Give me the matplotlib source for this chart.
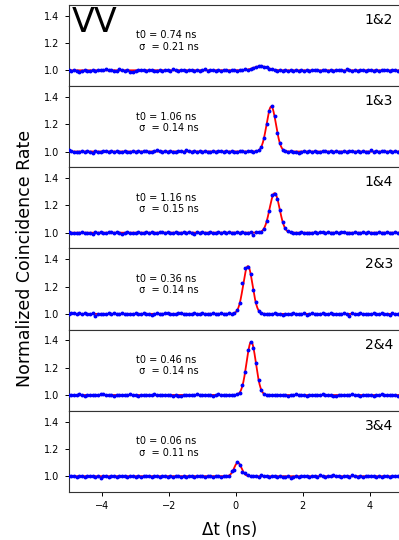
import matplotlib
matplotlib.use("Agg")
import matplotlib.pyplot as plt
import numpy as np

# time axis of the histograms (ns), 0.08 ns bins
dt = np.linspace(-5, 5, 126)

pairs = ["1&2", "1&3", "1&4", "2&3", "2&4", "3&4"]
t0 = [0.74, 1.06, 1.16, 0.36, 0.46, 0.06]
sigma = [0.21, 0.14, 0.15, 0.14, 0.14, 0.11]
amp = [0.03, 0.33, 0.29, 0.35, 0.39, 0.10]

rate_12 = [
    1.006, 0.998, 1.001, 0.994, 0.990, 0.996, 1.003, 0.992, 0.997, 1.000,
    0.995, 1.002, 1.004, 0.999, 1.007, 1.003, 1.005, 0.998, 0.994, 1.008,
    1.001, 0.996, 1.003, 0.985, 0.990, 0.997, 1.002, 0.999, 1.004, 0.995,
    1.000, 1.003, 0.996, 0.998, 1.005, 0.993, 1.001, 1.004, 0.997, 1.010,
    1.002, 0.996, 1.004, 0.999, 0.992, 1.006, 1.000, 0.995, 1.003, 0.998,
    1.001, 1.007, 0.995, 1.000, 1.004, 0.997, 1.002, 0.993, 0.999, 1.005,
    0.996, 1.003, 1.000, 0.994, 1.006, 1.002, 1.008, 1.005, 1.012, 1.020,
    1.022, 1.030, 1.035, 1.026, 1.024, 1.012, 1.010, 1.004, 0.998, 1.002,
    0.995, 1.001, 0.997, 1.003, 0.994, 1.000, 0.992, 1.004, 0.998, 1.001,
    0.996, 1.003, 0.999, 1.006, 0.993, 1.000, 1.004, 0.997, 1.002, 0.995,
    1.005, 0.999, 1.002, 0.996, 1.007, 1.001, 0.994, 1.003, 0.998, 1.004,
    1.000, 0.995, 1.003, 1.006, 0.997, 1.001, 0.993, 1.004, 0.999, 1.002,
    0.996, 1.003, 1.000, 0.994, 1.004, 1.001,
]
rate_13 = [
    1.012, 1.002, 0.996, 0.998, 0.993, 1.001, 0.997, 1.003, 0.999, 0.990,
    1.004, 1.000, 0.998, 1.002, 1.005, 0.999, 1.001, 0.996, 1.003, 1.000,
    0.997, 1.004, 1.000, 0.995, 1.002, 0.998, 1.001, 0.997, 1.003, 1.006,
    1.000, 0.996, 1.002, 1.014, 1.003, 0.997, 1.001, 0.995, 1.004, 1.000,
    0.998, 1.005, 1.002, 0.997, 1.008, 1.001, 0.996, 1.003, 0.999, 1.002,
    0.997, 1.004, 1.000, 0.995, 1.003, 0.999, 1.001, 1.005, 0.998, 1.002,
    0.996, 1.003, 1.000, 0.997, 1.004, 1.001, 0.998, 1.006, 1.002, 1.000,
    1.005, 1.012, 1.035, 1.102, 1.205, 1.296, 1.335, 1.262, 1.138, 1.062,
    1.012, 1.003, 0.998, 1.001, 0.995, 1.000, 0.992, 0.996, 1.003, 0.999,
    1.002, 0.996, 1.004, 1.000, 0.997, 1.003, 1.001, 0.995, 1.002, 0.998,
    1.004, 1.000, 0.997, 1.003, 0.999, 1.006, 1.001, 0.996, 1.002, 0.998,
    1.003, 1.000, 0.995, 1.009, 0.998, 1.002, 0.996, 1.001, 1.005, 0.994,
    1.002, 0.999, 1.004, 0.997, 1.001, 1.003,
]
rate_14 = [
    1.008, 1.001, 0.998, 1.000, 0.999, 1.002, 0.997, 1.000, 1.001, 0.994,
    1.006, 0.999, 1.003, 1.000, 0.998, 1.004, 1.002, 0.996, 1.005, 1.001,
    0.988, 1.000, 1.006, 0.997, 1.001, 0.999, 1.003, 0.998, 1.000, 1.005,
    0.997, 1.002, 1.000, 0.996, 1.004, 1.008, 0.999, 1.002, 0.995, 1.001,
    1.003, 0.997, 1.000, 1.005, 0.996, 1.002, 1.000, 0.994, 1.006, 0.999,
    1.003, 0.997, 1.001, 1.004, 0.995, 1.000, 1.003, 0.998, 1.002, 0.996,
    1.004, 1.000, 0.997, 1.002, 0.999, 1.005, 1.001, 0.996, 1.003, 0.985,
    1.002, 1.004, 1.006, 1.028, 1.085, 1.160, 1.280, 1.285, 1.245, 1.168,
    1.078, 1.032, 1.010, 1.003, 0.999, 1.001, 0.997, 1.002, 1.000, 0.998,
    1.001, 0.997, 1.003, 1.000, 1.008, 1.005, 0.999, 1.002, 0.996, 1.001,
    1.004, 0.998, 1.002, 1.007, 0.999, 1.001, 0.996, 1.003, 1.000, 0.997,
    1.002, 0.999, 1.004, 0.998, 1.001, 0.996, 1.003, 1.000, 0.997, 1.005,
    1.001, 0.998, 1.003, 0.999, 1.000, 1.002,
]
rate_23 = [
    1.002, 1.006, 1.003, 0.999, 1.004, 1.001, 1.005, 0.998, 1.000, 1.004,
    0.984, 0.997, 1.001, 0.999, 0.996, 1.003, 1.000, 1.006, 0.998, 1.002,
    1.008, 1.001, 0.997, 1.002, 0.999, 1.004, 0.996, 1.000, 1.003, 0.998,
    1.001, 0.994, 0.997, 1.004, 0.999, 1.002, 1.008, 1.004, 0.997, 1.001,
    0.998, 1.003, 1.005, 0.999, 1.002, 0.996, 1.001, 1.004, 0.998, 1.000,
    1.003, 0.999, 1.002, 0.996, 1.004, 1.000, 0.998, 1.003, 1.001, 0.997,
    1.004, 1.002, 1.008, 1.030, 1.078, 1.225, 1.340, 1.345, 1.290, 1.175,
    1.085, 1.022, 1.004, 1.001, 0.998, 1.000, 0.996, 1.003, 0.999, 1.002,
    0.990, 0.996, 1.001, 0.999, 1.005, 1.002, 0.997, 1.000, 1.003, 0.995,
    1.001, 1.004, 0.998, 1.002, 0.999, 1.003, 1.000, 0.996, 1.004, 1.001,
    0.997, 1.002, 0.999, 1.005, 1.000, 0.986, 1.003, 0.998, 1.001, 1.004,
    0.997, 1.002, 1.000, 0.996, 1.005, 1.001, 0.998, 1.003, 0.999, 1.002,
    0.995, 1.003, 1.000, 0.998, 1.004, 1.001,
]
rate_24 = [
    1.000, 0.998, 1.003, 0.997, 1.008, 1.002, 0.996, 1.000, 0.997, 1.004,
    1.002, 0.999, 1.005, 1.010, 1.002, 0.998, 1.001, 0.996, 1.000, 0.998,
    1.003, 0.997, 1.001, 1.008, 0.999, 1.002, 0.996, 1.000, 1.004, 0.998,
    1.002, 0.999, 1.005, 1.001, 0.997, 1.003, 1.000, 0.998, 1.002, 0.996,
    1.001, 0.993, 0.995, 1.002, 0.999, 1.004, 0.997, 1.000, 1.006, 0.998,
    1.003, 0.999, 1.004, 1.000, 0.996, 1.002, 1.008, 0.999, 1.001, 1.004,
    0.998, 1.002, 1.000, 1.006, 1.018, 1.072, 1.170, 1.330, 1.392, 1.345,
    1.235, 1.112, 1.040, 1.008, 1.002, 0.999, 1.004, 0.997, 1.001, 0.998,
    1.003, 1.000, 0.996, 1.002, 0.999, 1.005, 1.001, 0.997, 1.003, 0.994,
    1.000, 0.998, 1.004, 1.001, 0.997, 1.006, 1.002, 0.999, 1.003, 0.996,
    0.990, 1.001, 0.998, 1.004, 1.000, 0.997, 1.008, 1.002, 0.999, 0.995,
    1.003, 1.000, 0.997, 1.004, 0.996, 1.001, 0.998, 1.005, 1.000, 0.997,
    1.002, 0.999, 1.003, 0.996, 1.001, 1.004,
]
rate_34 = [
    1.001, 0.999, 1.002, 0.998, 1.000, 1.003, 0.997, 1.001, 0.999, 1.004,
    0.996, 1.002, 0.990, 1.003, 1.000, 0.998, 1.004, 1.001, 0.997, 1.002,
    0.999, 1.003, 0.996, 1.000, 1.005, 0.998, 1.002, 0.997, 1.001, 1.003,
    0.999, 0.994, 1.002, 1.000, 0.997, 1.004, 1.001, 0.998, 1.003, 0.996,
    1.001, 0.999, 0.993, 1.002, 0.998, 1.004, 1.000, 0.997, 1.003, 0.999,
    1.002, 0.996, 1.001, 1.004, 0.998, 1.000, 1.003, 0.997, 1.001, 0.999,
    1.004, 1.040, 1.048, 1.108, 1.080, 1.030, 1.025, 1.012, 1.003, 0.999,
    1.001, 0.997, 1.008, 1.002, 0.999, 0.994, 1.003, 1.000, 0.996, 1.002,
    0.998, 0.993, 1.001, 0.985, 0.997, 1.000, 0.995, 1.003, 0.999, 1.002,
    0.996, 1.001, 1.004, 0.998, 1.012, 1.000, 0.997, 1.003, 1.001, 1.006,
    0.999, 1.002, 0.996, 1.004, 1.000, 0.997, 1.008, 1.001, 0.998, 1.003,
    0.995, 1.002, 0.999, 1.004, 1.001, 0.997, 1.003, 0.992, 1.000, 1.004,
    0.998, 1.001, 1.003, 0.999, 1.002, 1.004,
]
rates = [rate_12, rate_13, rate_14, rate_23, rate_24, rate_34]


def gauss(x, a, mu, s):
    return 1.0 + a * np.exp(-((x - mu) ** 2) / (2 * s**2))


fig = plt.figure(figsize=(3.99, 5.4), dpi=100)
axes = fig.subplots(6, 1, sharex=True, gridspec_kw={"hspace": 0})
fig.subplots_adjust(left=0.172, right=1.01, top=0.991, bottom=0.089)

x_fine = np.linspace(-5, 5, 600)
for i, ax in enumerate(axes):
    ax.plot(x_fine, gauss(x_fine, amp[i], t0[i], sigma[i]), color="red", lw=1.3, zorder=2)
    ax.plot(dt, rates[i], "o", color="blue", ms=1.8, zorder=3)
    ax.set_xlim(-5, 5)
    ax.set_ylim(0.885, 1.48)
    ax.set_yticks([1.0, 1.2, 1.4])
    ax.tick_params(labelsize=7, length=3, width=0.7)
    for sp in ax.spines.values():
        sp.set_linewidth(0.8)
        sp.set_color("#333333")
    ax.text(0.97, 0.9, pairs[i], transform=ax.transAxes, ha="right", va="top", fontsize=10)
    ax.text(-3.0, 1.215, "t0 = %.2f ns\n σ  = %.2f ns" % (t0[i], sigma[i]),
            ha="left", va="center", fontsize=7, linespacing=1.15)

axes[0].text(0.01, 0.98, "VV", transform=axes[0].transAxes, ha="left", va="top", fontsize=24)
axes[-1].set_xticks([-4, -2, 0, 2, 4])

fig.text(0.063, 0.522, "Normalized Coincidence Rate", rotation=90, ha="center", va="center", fontsize=12.5)
fig.text(0.575, 0.019, "Δt (ns)", ha="center", va="center", fontsize=12)

fig.savefig("out.png", dpi=100)
